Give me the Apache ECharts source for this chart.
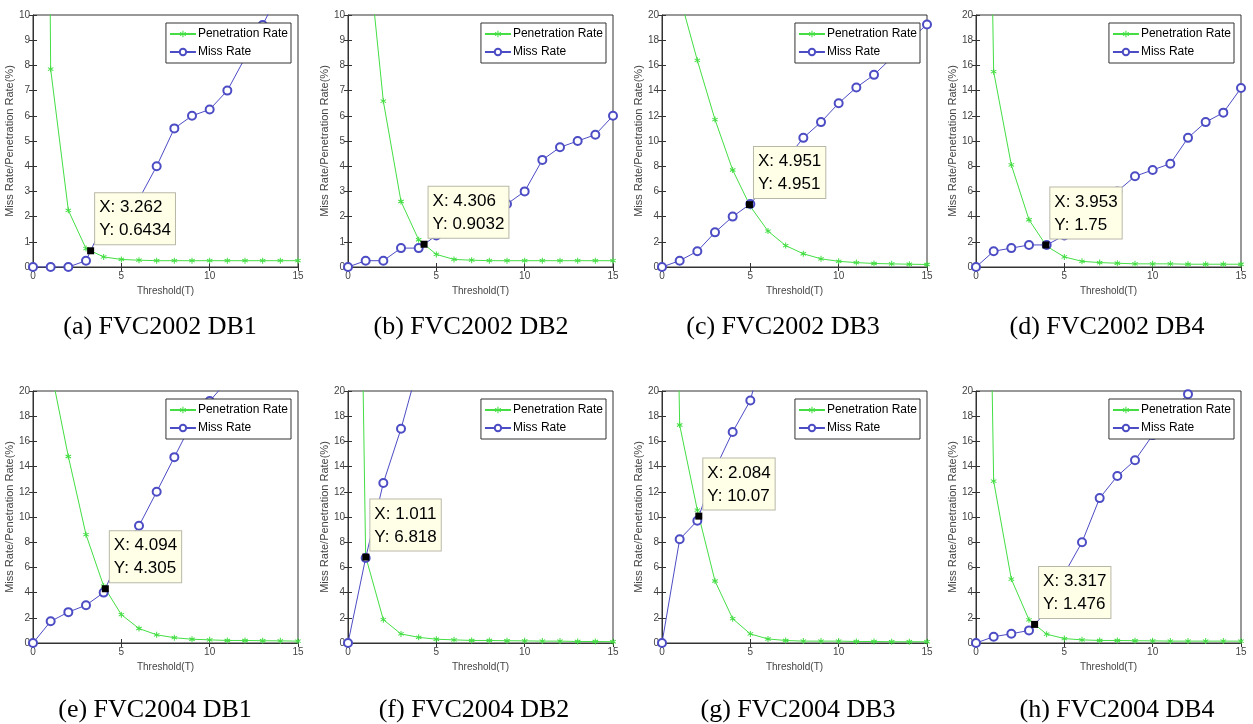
<!DOCTYPE html>
<html>
<head>
<meta charset="utf-8">
<title>Miss Rate / Penetration Rate</title>
<script src="https://cdn.jsdelivr.net/npm/echarts@6/dist/echarts.min.js"></script>
<style>
	html, body { margin: 0; padding: 0; background: #fff; }
	#chart { width: 1253px; height: 724px; }
</style>
</head>
<body>
<div id="chart"></div>
<script>
const thresholds = [0, 1, 2, 3, 4, 5, 6, 7, 8, 9, 10, 11, 12, 13, 14, 15];

const captions = [
	"(a) FVC2002 DB1",
	"(b) FVC2002 DB2",
	"(c) FVC2002 DB3",
	"(d) FVC2002 DB4",
	"(e) FVC2004 DB1",
	"(f) FVC2004 DB2",
	"(g) FVC2004 DB3",
	"(h) FVC2004 DB4",
];

// penetration rate per panel
const penA = [100, 7.85, 2.25, 0.73, 0.4, 0.3, 0.27, 0.25, 0.25, 0.25, 0.25, 0.25, 0.25, 0.25, 0.25, 0.25];
const penB = [100, 13.5, 6.58, 2.6, 1.08, 0.5, 0.3, 0.27, 0.25, 0.25, 0.25, 0.25, 0.25, 0.25, 0.25, 0.25];
const penC = [100, 21.5, 16.4, 11.7, 7.7, 4.81, 2.85, 1.7, 1.05, 0.65, 0.45, 0.35, 0.28, 0.25, 0.22, 0.2];
const penD = [100, 15.5, 8.1, 3.75, 1.65, 0.8, 0.45, 0.35, 0.3, 0.25, 0.25, 0.25, 0.22, 0.22, 0.22, 0.22];
const penE = [100, 21.8, 14.8, 8.6, 4.52, 2.25, 1.15, 0.65, 0.42, 0.3, 0.25, 0.2, 0.2, 0.18, 0.17, 0.15];
const penF = [100, 6.87, 1.85, 0.72, 0.45, 0.3, 0.25, 0.2, 0.2, 0.18, 0.17, 0.15, 0.15, 0.12, 0.12, 0.1];
const penG = [100, 17.3, 10.55, 4.92, 1.93, 0.72, 0.32, 0.2, 0.15, 0.15, 0.15, 0.12, 0.12, 0.1, 0.1, 0.1];
const penH = [100, 12.85, 5.07, 1.84, 0.7, 0.35, 0.25, 0.2, 0.2, 0.18, 0.17, 0.15, 0.15, 0.15, 0.15, 0.15];

// miss rate per panel (values above the axis max are clipped)
const missA = [0, 0, 0, 0.25, 1.75, 2.2, 2.7, 4.0, 5.5, 6.0, 6.25, 7.0, 8.3, 9.6, 11, 12];
const missB = [0, 0.25, 0.25, 0.75, 0.75, 1.25, 1.6, 2.0, 2.4, 2.5, 3.0, 4.25, 4.75, 5.0, 5.25, 6.0];
const missC = [0, 0.5, 1.25, 2.75, 4.0, 5.0, 6.7, 8.5, 10.25, 11.5, 13.0, 14.25, 15.25, 16.6, 18.0, 19.25];
const missD = [0, 1.25, 1.5, 1.75, 1.75, 2.5, 3.75, 5.25, 6.0, 7.2, 7.7, 8.2, 10.25, 11.5, 12.25, 14.2];
const missE = [0, 1.72, 2.45, 3.0, 4.0, 7.2, 9.3, 12.0, 14.75, 17.5, 19.2, 20.8, 22.5, 24, 25.5, 27];
const missF = [0, 6.75, 12.7, 17.0, 22.1, 26, 29, 32, 34, 36, 38, 40, 42, 44, 46, 48];
const missG = [0, 8.23, 9.7, 13.8, 16.75, 19.25, 24.6, 28, 31, 34, 36, 38, 40, 42, 44, 46];
const missH = [0, 0.5, 0.73, 1.0, 2.5, 5.5, 8.0, 11.5, 13.25, 14.5, 16.5, 18.3, 19.75, 22, 24, 26];

// data tip (crossing point) per panel
const tipX = [3.262, 4.306, 4.951, 3.953, 4.094, 1.011, 2.084, 3.317];
const tipY = [0.6434, 0.9032, 4.951, 1.75, 4.305, 6.818, 10.07, 1.476];

const yMax = [10, 10, 20, 20, 20, 20, 20, 20];
const yStep = [1, 1, 2, 2, 2, 2, 2, 2];

const pens = [penA, penB, penC, penD, penE, penF, penG, penH];
const misses = [missA, missB, missC, missD, missE, missF, missG, missH];

const W = 1253;
const lefts = [33, 348, 662, 976];
const tops = [15, 391];
const gridW = 265;
const gridH = 252;
const captionTops = [309, 692];
const captionX = [155, 466, 778, 1102, 150, 469, 793, 1112];

const green = "#44de44";
const blue = "#4c4cc4";
const asterisk =
	"path://M-0.8,-5L0.8,-5L0.8,5L-0.8,5Z" +
	"M3.93,3.19L-4.73,-1.81L-3.93,-3.19L4.73,1.81Z" +
	"M-4.73,1.81L3.93,-3.19L4.73,-1.81L-3.93,3.19Z";

const pairs = (vals) => thresholds.map((t, i) => [t, vals[i]]);

const grid = [];
const xAxis = [];
const yAxis = [];
const series = [];
const title = [];
const legend = [];

for (let p = 0; p < 8; p++) {
	const col = p % 4;
	const row = Math.floor(p / 4);
	const left = lefts[col];
	const top = tops[row];

	grid.push({
		left: left,
		top: top,
		width: gridW,
		height: gridH,
		show: true,
		borderColor: "#333",
		borderWidth: 1,
		backgroundColor: "#fff",
	});

	const tickStyle = { show: true, inside: true, length: 4, lineStyle: { color: "#333" } };

	xAxis.push({
		gridIndex: p,
		type: "value",
		min: 0,
		max: 15,
		interval: 5,
		name: "Threshold(T)",
		nameLocation: "middle",
		nameGap: 19,
		nameTextStyle: { fontSize: 10, color: "#444", fontFamily: "Liberation Sans" },
		axisLine: { show: true, lineStyle: { color: "#333" } },
		axisTick: tickStyle,
		axisLabel: { fontSize: 10, color: "#444", margin: 4, fontFamily: "Liberation Sans" },
		splitLine: { show: false },
	});
	xAxis.push({
		gridIndex: p,
		type: "value",
		position: "top",
		min: 0,
		max: 15,
		interval: 5,
		axisLine: { show: false },
		axisTick: tickStyle,
		axisLabel: { show: false },
		splitLine: { show: false },
	});

	yAxis.push({
		gridIndex: p,
		type: "value",
		min: 0,
		max: yMax[p],
		interval: yStep[p],
		name: "Miss Rate/Penetration Rate(%)",
		nameLocation: "middle",
		nameGap: 14,
		nameTextStyle: { fontSize: 11, color: "#444", fontFamily: "Liberation Sans" },
		axisLine: { show: true, lineStyle: { color: "#333" } },
		axisTick: tickStyle,
		axisLabel: { fontSize: 10, color: "#444", margin: 3, fontFamily: "Liberation Sans" },
		splitLine: { show: false },
	});
	yAxis.push({
		gridIndex: p,
		type: "value",
		position: "right",
		min: 0,
		max: yMax[p],
		interval: yStep[p],
		axisLine: { show: false },
		axisTick: tickStyle,
		axisLabel: { show: false },
		splitLine: { show: false },
	});

	series.push({
		name: "Penetration Rate",
		type: "line",
		xAxisIndex: p * 2,
		yAxisIndex: p * 2,
		data: pairs(pens[p]),
		clip: true,
		symbol: asterisk,
		symbolSize: 6,
		lineStyle: { color: green, width: 1 },
		itemStyle: { color: green },
		animation: false,
	});
	series.push({
		name: "Miss Rate",
		type: "line",
		xAxisIndex: p * 2,
		yAxisIndex: p * 2,
		data: pairs(misses[p]),
		clip: true,
		symbol: "emptyCircle",
		symbolSize: 8,
		lineStyle: { color: blue, width: 1 },
		itemStyle: { color: blue, borderColor: blue, borderWidth: 1 },
		animation: false,
	});
	series.push({
		name: "tip" + p,
		type: "scatter",
		xAxisIndex: p * 2,
		yAxisIndex: p * 2,
		data: [[tipX[p], tipY[p]]],
		symbol: "rect",
		symbolSize: 7,
		itemStyle: { color: "#000", opacity: 1 },
		z: 10,
		label: {
			show: true,
			position: [8, -3],
			align: "left",
			verticalAlign: "bottom",
			formatter: () => "X: " + tipX[p] + "\nY: " + tipY[p],
			fontFamily: "Liberation Sans",
			fontSize: 17,
			lineHeight: 23,
			color: "#000",
			opacity: 1,
			backgroundColor: "#ffffe8",
			borderColor: "#b8b8a8",
			borderWidth: 1,
			padding: [3, 4, 2, 4],
		},
		animation: false,
	});

	legend.push({
		data: ["Penetration Rate", "Miss Rate"],
		orient: "vertical",
		right: W - (left + gridW) + 7,
		top: top + 8,
		itemWidth: 26,
		itemHeight: 8,
		itemGap: 6,
		padding: [5, 3, 5, 3],
		backgroundColor: "#fff",
		borderColor: "#333",
		borderWidth: 1,
		borderRadius: 0,
		textStyle: { fontSize: 12, color: "#000", fontFamily: "Liberation Sans", padding: [0, 0, 0, -3] },
		selectedMode: false,
	});

	title.push({
		text: captions[p],
		left: captionX[p],
		top: captionTops[row],
		textAlign: "center",
		textStyle: {
			fontFamily: "Liberation Serif",
			fontWeight: "normal",
			fontSize: 26,
			color: "#000",
		},
	});
}

const chart = echarts.init(document.getElementById("chart"));
chart.setOption({
	animation: false,
	backgroundColor: "#fff",
	title: title,
	legend: legend,
	grid: grid,
	xAxis: xAxis,
	yAxis: yAxis,
	series: series,
});
</script>
</body>
</html>
